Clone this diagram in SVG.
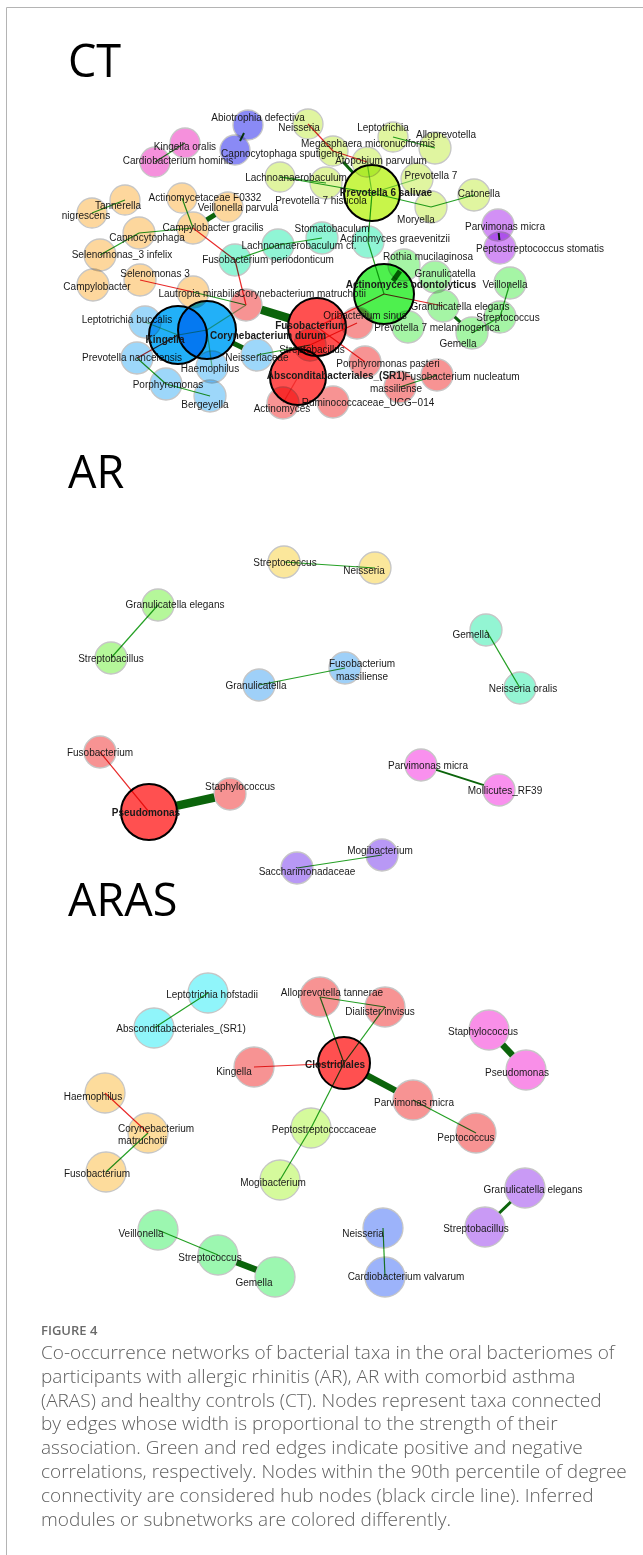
<svg xmlns="http://www.w3.org/2000/svg" width="643" height="1555" viewBox="0 0 643 1555">
<style>
.n circle{mix-blend-mode:multiply;stroke:#c6c6c6;stroke-width:1.3}
.hub circle{stroke:#000;stroke-width:2}
.n text{font-family:"Liberation Sans",Arial,sans-serif;font-size:10px;fill:#1a1a1a;text-anchor:middle}
.hub text{font-weight:bold}
.n text.st{text-anchor:start}
#connectors line{stroke-linecap:butt}
.p{stroke:#25a025;stroke-width:1.2}
.ng{stroke:#e82a2a;stroke-width:1.2}
.f{stroke-opacity:.55}
.t2{stroke:#0b640b;stroke-width:2}
.t3{stroke:#0b640b;stroke-width:3}
.t5{stroke:#0b640b;stroke-width:5}
.t6{stroke:#0b640b;stroke-width:6.5}
.t8{stroke:#0b640b;stroke-width:8.5}
.title{font-family:"Open Sans","Noto Sans",sans-serif;font-size:45px;fill:#000}
.cap{font-family:"Open Sans","Noto Sans",sans-serif;font-size:19px;fill:#5e5e5e;font-weight:300}
.fig{font-family:"Open Sans","Noto Sans",sans-serif;font-size:13px;fill:#6a6a6a;font-weight:600}
.c-bv{fill:#8a8af5}.c-pk{fill:#f590dc}.c-or{fill:#fdd79d}.c-tl{fill:#90f5d5}.c-yg{fill:#e0f5a0}
.c-pu{fill:#d290f5}.c-lg{fill:#a5f5a5}.c-lr{fill:#f79393}.c-lb{fill:#9dd7fa}
.c-hyg{fill:#c8f54a}.c-hg{fill:#4ef04e}.c-hr{fill:#ff5050}.c-hb{fill:#22b0f8}
.c-ye{fill:#fbe79b}.c-gr{fill:#b5f79a}.c-bl{fill:#9fd0f8}.c-aq{fill:#93f5d3}.c-mg{fill:#f990ee}.c-lv{fill:#b898f5}
.c-cy{fill:#90f5fa}.c-pp{fill:#f98fe8}.c-o2{fill:#fddc9c}.c-y2{fill:#d5fa9c}.c-v2{fill:#c99af5}.c-m2{fill:#9cf7b0}.c-pw{fill:#9cb3fa}
</style>
<path d="M6.5,1555 V7.5 H643" stroke="#b4b4b4" stroke-width="1" fill="none"/>
<text class="title" x="68" y="77">CT</text>
<text class="title" x="68" y="488">AR</text>
<text class="title" x="68" y="916">ARAS</text>

<g id="connectors">
<!-- CT -->
<line class="p" x1="185" y1="143" x2="155" y2="162"/>
<line class="p" x1="125" y1="200" x2="92" y2="213"/>
<line class="p" x1="139" y1="233" x2="193" y2="228"/>
<line class="p" x1="139" y1="233" x2="100" y2="255"/>
<line class="p" x1="182" y1="198" x2="193" y2="228"/>
<line class="p" x1="235" y1="260" x2="278" y2="245"/>
<line class="p" x1="278" y1="245" x2="322" y2="238"/>
<line class="p" x1="193" y1="292" x2="246" y2="305"/>
<line class="p" x1="137" y1="358" x2="166" y2="384"/>
<line class="p" x1="166" y1="384" x2="210" y2="396"/>
<line class="p" x1="257" y1="355" x2="310" y2="345"/>
<line class="p f" x1="178" y1="335" x2="145" y2="322"/>
<line class="p f" x1="178" y1="335" x2="207" y2="330"/>
<line class="p f" x1="207" y1="330" x2="246" y2="305"/>
<line class="p f" x1="207" y1="330" x2="212" y2="367"/>
<line class="p" x1="372" y1="193" x2="280" y2="177"/>
<line class="p" x1="280" y1="177" x2="326" y2="183"/>
<line class="p" x1="372" y1="193" x2="431" y2="207"/>
<line class="p" x1="431" y1="207" x2="474" y2="195"/>
<line class="p" x1="372" y1="193" x2="368" y2="242"/>
<line class="p f" x1="372" y1="193" x2="417" y2="179"/>
<line class="p f" x1="372" y1="193" x2="367" y2="162"/>
<line class="p" x1="393" y1="137" x2="435" y2="148"/>
<line class="p" x1="384" y1="294" x2="368" y2="242"/>
<line class="p" x1="500" y1="317" x2="510" y2="283"/>
<line class="p" x1="500" y1="317" x2="472" y2="333"/>
<line class="p" x1="400" y1="387" x2="437" y2="375"/>
<line class="t3" x1="352.9" y1="172.5" x2="343.2" y2="162"/>
<line class="t5" x1="393" y1="281" x2="400" y2="271"/>
<line class="t3" x1="454.7" y1="316.9" x2="460.3" y2="322.1"/>
<line class="t5" x1="215.1" y1="214.7" x2="206.7" y2="219.8"/>
<line class="t8" x1="261.3" y1="309.7" x2="289.3" y2="318.4"/>
<line class="t5" x1="232.9" y1="343" x2="242.7" y2="347.8"/>
<line class="t2" x1="498.7" y1="233" x2="499.4" y2="240"/>
<line class="t2" x1="244" y1="133" x2="240" y2="141"/>
<line class="ng" x1="193" y1="228" x2="235" y2="260"/>
<line class="ng" x1="235" y1="260" x2="246" y2="305"/>
<line class="ng" x1="140" y1="280" x2="193" y2="292"/>
<line class="ng" x1="137" y1="358" x2="178" y2="335"/>
<line class="ng" x1="317" y1="327" x2="384" y2="294"/>
<line class="ng" x1="317" y1="327" x2="365" y2="362"/>
<line class="ng" x1="384" y1="294" x2="443" y2="306"/>
<line class="ng" x1="333" y1="151" x2="308" y2="124"/>
<line class="ng" x1="333" y1="151" x2="367" y2="162"/>
<line class="ng f" x1="298" y1="377" x2="283" y2="403"/>
<line class="ng" x1="310" y1="345" x2="357" y2="323"/>
<!-- AR -->
<line class="p" x1="284" y1="562" x2="375" y2="568"/>
<line class="p" x1="158" y1="605" x2="111" y2="658"/>
<line class="p" x1="259" y1="685" x2="345" y2="668"/>
<line class="p" x1="486" y1="630" x2="520" y2="688"/>
<line class="ng" x1="100" y1="752" x2="149" y2="812"/>
<line class="t8" x1="176.3" y1="805.9" x2="214.4" y2="797.5"/>
<line class="t2" x1="436.2" y1="769.9" x2="483.8" y2="785.1"/>
<line class="p" x1="297" y1="868" x2="382" y2="855"/>
<!-- ARAS -->
<line class="p" x1="208" y1="993" x2="154" y2="1028"/>
<line class="p" x1="320" y1="997" x2="385" y2="1007"/>
<line class="p" x1="320" y1="997" x2="344" y2="1063"/>
<line class="p" x1="385" y1="1007" x2="344" y2="1063"/>
<line class="ng" x1="254" y1="1067" x2="344" y2="1063"/>
<line class="t6" x1="366.9" y1="1075.3" x2="395.4" y2="1090.5"/>
<line class="p" x1="344" y1="1063" x2="311" y2="1128"/>
<line class="p" x1="413" y1="1100" x2="476" y2="1133"/>
<line class="p" x1="311" y1="1128" x2="280" y2="1180"/>
<line class="t6" x1="502.6" y1="1044.7" x2="512.4" y2="1055.3"/>
<line class="ng" x1="105" y1="1093" x2="148" y2="1133"/>
<line class="p" x1="148" y1="1133" x2="106" y2="1172"/>
<line class="t3" x1="510.7" y1="1202" x2="499.3" y2="1213"/>
<line class="p" x1="383" y1="1228" x2="385" y2="1277"/>
<line class="p" x1="158" y1="1230" x2="218" y2="1255"/>
<line class="t6" x1="236.7" y1="1262.2" x2="256.3" y2="1269.8"/>
</g>

<g id="ct-nodes">
<g id="ct-abiotrophia-defectiva" class="n"><circle class="c-bv" cx="248" cy="125" r="15"/><text x="258" y="120.5">Abiotrophia defectiva</text></g>
<g id="ct-capnocytophaga-sputigena" class="n"><circle class="c-bv" cx="235" cy="150" r="15"/><text x="282" y="156.5">Capnocytophaga sputigena</text></g>
<g id="ct-kingella-oralis" class="n"><circle class="c-pk" cx="185" cy="143" r="15"/><text x="185" y="149.5">Kingella oralis</text></g>
<g id="ct-cardiobacterium-hominis" class="n"><circle class="c-pk" cx="155" cy="162" r="15"/><text x="178" y="163.5">Cardiobacterium hominis</text></g>
<g id="ct-tannerella" class="n"><circle class="c-or" cx="125" cy="200" r="15"/><text x="118" y="208.5">Tannerella</text></g>
<g id="ct-nigrescens" class="n"><circle class="c-or" cx="92" cy="213" r="15"/><text x="86" y="218.5">nigrescens</text></g>
<g id="ct-capnocytophaga" class="n"><circle class="c-or" cx="139" cy="233" r="16"/><text x="147" y="240.5">Capnocytophaga</text></g>
<g id="ct-selenomonas-3-infelix" class="n"><circle class="c-or" cx="100" cy="255" r="16"/><text x="122" y="257.5">Selenomonas_3 infelix</text></g>
<g id="ct-campylobacter" class="n"><circle class="c-or" cx="93" cy="285" r="16"/><text x="97" y="289.5">Campylobacter</text></g>
<g id="ct-selenomonas-3" class="n"><circle class="c-or" cx="140" cy="280" r="16"/><text x="155" y="276.5">Selenomonas 3</text></g>
<g id="ct-actinomycetaceae-f0332" class="n"><circle class="c-or" cx="182" cy="198" r="15"/><text x="205" y="200.5">Actinomycetaceae F0332</text></g>
<g id="ct-veillonella-parvula" class="n"><circle class="c-or" cx="228" cy="207" r="15"/><text x="238" y="210.5">Veillonella parvula</text></g>
<g id="ct-campylobacter-gracilis" class="n"><circle class="c-or" cx="193" cy="228" r="16"/><text x="213" y="230.5">Campylobacter gracilis</text></g>
<g id="ct-lautropia-mirabilis" class="n"><circle class="c-or" cx="193" cy="292" r="16"/><text x="199" y="296.5">Lautropia mirabilis</text></g>
<g id="ct-fusobacterium-periodonticum" class="n"><circle class="c-tl" cx="235" cy="260" r="16"/><text x="268" y="262.5">Fusobacterium periodonticum</text></g>
<g id="ct-lachnoanaerobaculum-cf" class="n"><circle class="c-tl" cx="278" cy="245" r="16"/><text x="299" y="248.5">Lachnoanaerobaculum cf.</text></g>
<g id="ct-stomatobaculum" class="n"><circle class="c-tl" cx="322" cy="238" r="16"/><text x="332" y="231.5">Stomatobaculum</text></g>
<g id="ct-actinomyces-graevenitzii" class="n"><circle class="c-tl" cx="368" cy="242" r="16"/><text x="395" y="241.5">Actinomyces graevenitzii</text></g>
<g id="ct-neisseria" class="n"><circle class="c-yg" cx="308" cy="124" r="15"/><text x="299" y="130.5">Neisseria</text></g>
<g id="ct-megasphaera-micronuciformis" class="n"><circle class="c-yg" cx="333" cy="151" r="15"/><text x="368" y="146.5">Megasphaera micronuciformis</text></g>
<g id="ct-leptotrichia" class="n"><circle class="c-yg" cx="393" cy="137" r="15"/><text x="383" y="130.5">Leptotrichia</text></g>
<g id="ct-alloprevotella" class="n"><circle class="c-yg" cx="435" cy="148" r="16"/><text x="446" y="137.5">Alloprevotella</text></g>
<g id="ct-atopobium-parvulum" class="n"><circle class="c-yg" cx="367" cy="162" r="15"/><text x="381" y="163.5">Atopobium parvulum</text></g>
<g id="ct-lachnoanaerobaculum" class="n"><circle class="c-yg" cx="280" cy="177" r="15"/><text x="296" y="180.5">Lachnoanaerobaculum</text></g>
<g id="ct-prevotella-7-histicola" class="n"><circle class="c-yg" cx="326" cy="183" r="16"/><text x="321" y="203.5">Prevotella 7 histicola</text></g>
<g id="ct-prevotella-7" class="n"><circle class="c-yg" cx="417" cy="179" r="16"/><text x="431" y="178.5">Prevotella 7</text></g>
<g id="ct-moryella" class="n"><circle class="c-yg" cx="431" cy="207" r="16"/><text x="416" y="222.5">Moryella</text></g>
<g id="ct-catonella" class="n"><circle class="c-yg" cx="474" cy="195" r="16"/><text x="479" y="196.5">Catonella</text></g>
<g id="ct-prevotella-6-salivae" class="n hub"><circle class="c-hyg" cx="372" cy="193" r="28"/><text x="386" y="195.5">Prevotella 6 salivae</text></g>
<g id="ct-parvimonas-micra" class="n"><circle class="c-pu" cx="498" cy="225" r="16"/><text x="505" y="229.5">Parvimonas micra</text></g>
<g id="ct-peptostreptococcus-stomatis" class="n"><circle class="c-pu" cx="500" cy="248" r="16"/><text x="540" y="251.5">Peptostreptococcus stomatis</text></g>
<g id="ct-rothia-mucilaginosa" class="n"><circle class="c-lg" cx="404" cy="265" r="16"/><text x="428" y="259.5">Rothia mucilaginosa</text></g>
<g id="ct-granulicatella" class="n"><circle class="c-lg" cx="435" cy="277" r="16"/><text x="445" y="276.5">Granulicatella</text></g>
<g id="ct-veillonella" class="n"><circle class="c-lg" cx="510" cy="283" r="16"/><text x="505" y="287.5">Veillonella</text></g>
<g id="ct-granulicatella-elegans" class="n"><circle class="c-lg" cx="443" cy="306" r="16"/><text x="460" y="309.5">Granulicatella elegans</text></g>
<g id="ct-streptococcus" class="n"><circle class="c-lg" cx="500" cy="317" r="16"/><text x="508" y="320.5">Streptococcus</text></g>
<g id="ct-prevotella-7-melaninogenica" class="n"><circle class="c-lg" cx="408" cy="327" r="16"/><text x="437" y="330.5">Prevotella 7 melaninogenica</text></g>
<g id="ct-gemella" class="n"><circle class="c-lg" cx="472" cy="333" r="16"/><text x="458" y="346.5">Gemella</text></g>
<g id="ct-actinomyces-odontolyticus" class="n hub"><circle class="c-hg" cx="384" cy="294" r="30"/><text x="411" y="287.5">Actinomyces odontolyticus</text></g>
<g id="ct-corynebacterium-matruchotii" class="n"><circle class="c-lr" cx="246" cy="305" r="16"/><text x="302" y="296.5">Corynebacterium matruchotii</text></g>
<g id="ct-oribacterium-sinus" class="n"><circle class="c-lr" cx="357" cy="323" r="16"/><text x="365" y="318.5">Oribacterium sinus</text></g>
<g id="ct-streptobacillus" class="n"><circle class="c-lr" cx="310" cy="345" r="16"/><text x="312" y="352.5">Streptobacillus</text></g>
<g id="ct-porphyromonas-pasteri" class="n"><circle class="c-lr" cx="365" cy="362" r="16"/><text x="388" y="366.5">Porphyromonas pasteri</text></g>
<g id="ct-massiliense" class="n"><circle class="c-lr" cx="400" cy="387" r="16"/><text x="396" y="391.5">massiliense</text></g>
<g id="ct-fusobacterium-nucleatum" class="n"><circle class="c-lr" cx="437" cy="375" r="16"/><text x="462" y="379.5">Fusobacterium nucleatum</text></g>
<g id="ct-ruminococcaceae-ucg-014" class="n"><circle class="c-lr" cx="333" cy="402" r="16"/><text x="368" y="405.5">Ruminococcaceae_UCG−014</text></g>
<g id="ct-actinomyces" class="n"><circle class="c-lr" cx="283" cy="403" r="16"/><text x="282" y="411.5">Actinomyces</text></g>
<g id="ct-fusobacterium" class="n hub"><circle class="c-hr" cx="317" cy="327" r="29"/><text x="311" y="328.5">Fusobacterium</text></g>
<g id="ct-absconditabacteriales-sr1" class="n hub"><circle class="c-hr" cx="298" cy="377" r="28"/><text x="336" y="378.5">Absconditabacteriales_(SR1)</text></g>
<g id="ct-leptotrichia-buccalis" class="n"><circle class="c-lb" cx="145" cy="322" r="16"/><text x="127" y="322.5">Leptotrichia buccalis</text></g>
<g id="ct-prevotella-nancelensis" class="n"><circle class="c-lb" cx="137" cy="358" r="16"/><text x="132" y="360.5">Prevotella nancelensis</text></g>
<g id="ct-haemophilus" class="n"><circle class="c-lb" cx="212" cy="367" r="16"/><text x="210" y="371.5">Haemophilus</text></g>
<g id="ct-porphyromonas" class="n"><circle class="c-lb" cx="166" cy="384" r="16"/><text x="168" y="387.5">Porphyromonas</text></g>
<g id="ct-bergeyella" class="n"><circle class="c-lb" cx="210" cy="396" r="16"/><text x="205" y="407.5">Bergeyella</text></g>
<g id="ct-neisseriaceae" class="n"><circle class="c-lb" cx="257" cy="355" r="16"/><text x="257" y="360.5">Neisseriaceae</text></g>
<g id="ct-corynebacterium-durum" class="n hub"><circle class="c-hb" cx="207" cy="330" r="29"/><text x="268" y="339">Corynebacterium durum</text></g>
<g id="ct-kingella" class="n hub"><circle class="c-hb" cx="178" cy="335" r="29"/><text x="165" y="342.5">Kingella</text></g>
</g>

<g id="ar-nodes">
<g id="ar-streptococcus" class="n"><circle class="c-ye" cx="284" cy="562" r="16"/><text x="285" y="565.5">Streptococcus</text></g>
<g id="ar-neisseria" class="n"><circle class="c-ye" cx="375" cy="568" r="16"/><text x="364" y="573.5">Neisseria</text></g>
<g id="ar-granulicatella-elegans" class="n"><circle class="c-gr" cx="158" cy="605" r="16"/><text x="175" y="607.5">Granulicatella elegans</text></g>
<g id="ar-streptobacillus" class="n"><circle class="c-gr" cx="111" cy="658" r="16"/><text x="111" y="661.5">Streptobacillus</text></g>
<g id="ar-granulicatella" class="n"><circle class="c-bl" cx="259" cy="685" r="16"/><text x="256" y="688.5">Granulicatella</text></g>
<g id="ar-fusobacterium-massiliense" class="n"><circle class="c-bl" cx="345" cy="668" r="16"/><text x="362" y="666.5">Fusobacterium</text><text x="362" y="679.5">massiliense</text></g>
<g id="ar-gemella" class="n"><circle class="c-aq" cx="486" cy="630" r="16"/><text x="471" y="637.5">Gemella</text></g>
<g id="ar-neisseria-oralis" class="n"><circle class="c-aq" cx="520" cy="688" r="16"/><text x="523" y="691.5">Neisseria oralis</text></g>
<g id="ar-fusobacterium" class="n"><circle class="c-lr" cx="100" cy="752" r="16"/><text x="100" y="755.5">Fusobacterium</text></g>
<g id="ar-staphylococcus" class="n"><circle class="c-lr" cx="230" cy="794" r="16"/><text x="240" y="789.5">Staphylococcus</text></g>
<g id="ar-pseudomonas" class="n hub"><circle class="c-hr" cx="149" cy="812" r="28"/><text x="146" y="815.5">Pseudomonas</text></g>
<g id="ar-parvimonas-micra" class="n"><circle class="c-mg" cx="421" cy="765" r="16"/><text x="428" y="768.5">Parvimonas micra</text></g>
<g id="ar-mollicutes-rf39" class="n"><circle class="c-mg" cx="499" cy="790" r="16"/><text x="505" y="793.5">Mollicutes_RF39</text></g>
<g id="ar-mogibacterium" class="n"><circle class="c-lv" cx="382" cy="855" r="16"/><text x="380" y="853.5">Mogibacterium</text></g>
<g id="ar-saccharimonadaceae" class="n"><circle class="c-lv" cx="297" cy="868" r="16"/><text x="307" y="874.5">Saccharimonadaceae</text></g>
</g>

<g id="aras-nodes">
<g id="aras-leptotrichia-hofstadii" class="n"><circle class="c-cy" cx="208" cy="993" r="20"/><text x="212" y="997.5">Leptotrichia hofstadii</text></g>
<g id="aras-absconditabacteriales-sr1" class="n"><circle class="c-cy" cx="154" cy="1028" r="20"/><text x="181" y="1031.5">Absconditabacteriales_(SR1)</text></g>
<g id="aras-alloprevotella-tannerae" class="n"><circle class="c-lr" cx="320" cy="997" r="20"/><text x="332" y="995.5">Alloprevotella tannerae</text></g>
<g id="aras-dialister-invisus" class="n"><circle class="c-lr" cx="385" cy="1007" r="20"/><text x="380" y="1014.5">Dialister invisus</text></g>
<g id="aras-kingella" class="n"><circle class="c-lr" cx="254" cy="1067" r="20"/><text x="234" y="1074.5">Kingella</text></g>
<g id="aras-parvimonas-micra" class="n"><circle class="c-lr" cx="413" cy="1100" r="20"/><text x="414" y="1105.5">Parvimonas micra</text></g>
<g id="aras-peptococcus" class="n"><circle class="c-lr" cx="476" cy="1133" r="20"/><text x="466" y="1140.5">Peptococcus</text></g>
<g id="aras-clostridiales" class="n hub"><circle class="c-hr" cx="344" cy="1063" r="26"/><text x="335" y="1067.5">Clostridiales</text></g>
<g id="aras-staphylococcus" class="n"><circle class="c-pp" cx="489" cy="1030" r="20"/><text x="483" y="1034.5">Staphylococcus</text></g>
<g id="aras-pseudomonas" class="n"><circle class="c-pp" cx="526" cy="1070" r="20"/><text x="517" y="1075.5">Pseudomonas</text></g>
<g id="aras-haemophilus" class="n"><circle class="c-o2" cx="105" cy="1093" r="20"/><text x="93" y="1099.5">Haemophilus</text></g>
<g id="aras-corynebacterium-matruchotii" class="n"><circle class="c-o2" cx="148" cy="1133" r="20"/><text class="st" x="118" y="1131.5">Corynebacterium</text><text class="st" x="118" y="1143.5">matruchotii</text></g>
<g id="aras-fusobacterium" class="n"><circle class="c-o2" cx="106" cy="1172" r="20"/><text x="97" y="1176.5">Fusobacterium</text></g>
<g id="aras-peptostreptococcaceae" class="n"><circle class="c-y2" cx="311" cy="1128" r="20"/><text x="324" y="1132.5">Peptostreptococcaceae</text></g>
<g id="aras-mogibacterium" class="n"><circle class="c-y2" cx="280" cy="1180" r="20"/><text x="273" y="1185.5">Mogibacterium</text></g>
<g id="aras-granulicatella-elegans" class="n"><circle class="c-v2" cx="525" cy="1188" r="20"/><text x="533" y="1192.5">Granulicatella elegans</text></g>
<g id="aras-streptobacillus" class="n"><circle class="c-v2" cx="485" cy="1227" r="20"/><text x="476" y="1231.5">Streptobacillus</text></g>
<g id="aras-neisseria" class="n"><circle class="c-pw" cx="383" cy="1228" r="20"/><text x="363" y="1236.5">Neisseria</text></g>
<g id="aras-cardiobacterium-valvarum" class="n"><circle class="c-pw" cx="385" cy="1277" r="20"/><text x="406" y="1279.5">Cardiobacterium valvarum</text></g>
<g id="aras-veillonella" class="n"><circle class="c-m2" cx="158" cy="1230" r="20"/><text x="141" y="1236.5">Veillonella</text></g>
<g id="aras-streptococcus" class="n"><circle class="c-m2" cx="218" cy="1255" r="20"/><text x="210" y="1260.5">Streptococcus</text></g>
<g id="aras-gemella" class="n"><circle class="c-m2" cx="275" cy="1277" r="20"/><text x="254" y="1285.5">Gemella</text></g>
</g>

<g id="caption">
<text class="fig" x="41" y="1335">FIGURE 4</text>
<text class="cap" x="41" y="1359">Co-occurrence networks of bacterial taxa in the oral bacteriomes of</text>
<text class="cap" x="41" y="1383">participants with allergic rhinitis (AR), AR with comorbid asthma</text>
<text class="cap" x="41" y="1407">(ARAS) and healthy controls (CT). Nodes represent taxa connected</text>
<text class="cap" x="41" y="1430">by edges whose width is proportional to the strength of their</text>
<text class="cap" x="41" y="1454">association. Green and red edges indicate positive and negative</text>
<text class="cap" x="41" y="1478">correlations, respectively. Nodes within the 90th percentile of degree</text>
<text class="cap" x="41" y="1502">connectivity are considered hub nodes (black circle line). Inferred</text>
<text class="cap" x="41" y="1526">modules or subnetworks are colored differently.</text>
</g>
</svg>
